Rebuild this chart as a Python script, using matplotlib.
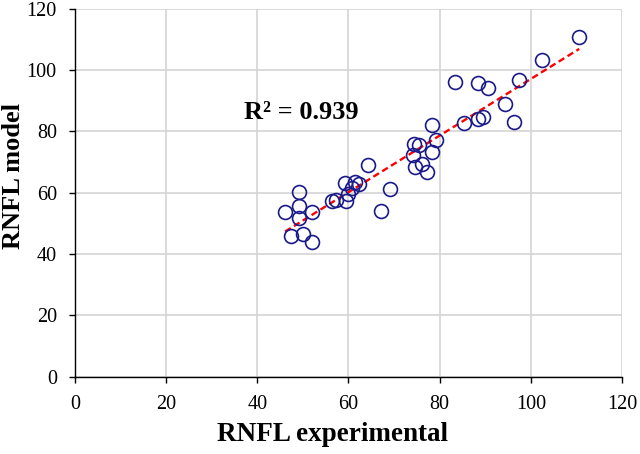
import matplotlib
matplotlib.use("Agg")
import matplotlib.pyplot as plt
import numpy as np

x_exp = [46.1, 47.3, 49.2, 49.2, 49.2, 50.1, 52.1, 52.1, 56.3, 57.3,
         59.5, 60.0, 60.7, 59.2, 61.4, 62.2, 64.3, 67.1, 69.1, 74.4,
         75.5, 74.2, 74.6, 76.1, 77.3, 78.3, 79.3, 78.3, 83.4, 85.4,
         88.3, 89.4, 88.3, 90.5, 94.3, 96.3, 97.4, 102.4, 110.6]
y_model = [53.8, 45.9, 60.1, 55.7, 51.9, 46.6, 53.6, 44.1, 57.3, 57.6,
           57.3, 59.5, 61.4, 63.1, 63.6, 62.7, 68.9, 54.1, 61.2, 75.9,
           75.5, 72.3, 68.5, 69.3, 66.9, 73.4, 77.2, 82.1, 96.0, 82.6,
           84.0, 84.8, 95.6, 94.1, 88.8, 82.9, 96.9, 103.2, 110.6]
ticks = [0, 20, 40, 60, 80, 100, 120]
r2_label = "R\u00b2 = 0.939"

plt.rcParams['font.family'] = ['Liberation Serif', 'DejaVu Serif']

fig = plt.figure(figsize=(6.4, 4.54), dpi=100)
ax = fig.add_axes([0.117, 0.170, 0.855, 0.811])

ax.set_xlim(0, 120)
ax.set_ylim(0, 120)
ax.set_xticks(ticks)
ax.set_yticks(ticks)
ax.grid(True, color='#d4d4d4', linewidth=1.2, zorder=0)
ax.set_axisbelow(True)
for s in ['top', 'right']:
    ax.spines[s].set_visible(False)
for s in ['left', 'bottom']:
    ax.spines[s].set_color('black')
    ax.spines[s].set_linewidth(1.0)
ax.tick_params(axis='both', direction='out', length=4.5, width=1.0,
               labelsize=14.5, colors='black', pad=8.5)

xa = np.array(x_exp)
ya = np.array(y_model)
m, b = np.polyfit(xa, ya, 1)
xl = np.array([xa.min(), xa.max()])
ax.plot(xl, m * xl + b, color='#ff0000', linestyle=(0, (2.8, 1.6)),
        linewidth=1.7, zorder=2)

ax.plot(xa, ya, linestyle='none', marker='o', markersize=10,
        markerfacecolor='none', markeredgecolor='#1a1a8a',
        markeredgewidth=1.2, zorder=3)

ax.text(37.0, 86.0, r2_label, fontsize=19, fontweight='bold',
        ha='left', va='center', color='black')

ax.set_xlabel('RNFL experimental', fontsize=19.5, fontweight='bold', va='center')
ax.xaxis.set_label_coords(0.47, -0.157)
ax.set_ylabel('RNFL model', fontsize=19, fontweight='bold', va='center', ha='center')
ax.yaxis.set_label_coords(-0.112, 0.545)

fig.savefig('out.png', dpi=100)
